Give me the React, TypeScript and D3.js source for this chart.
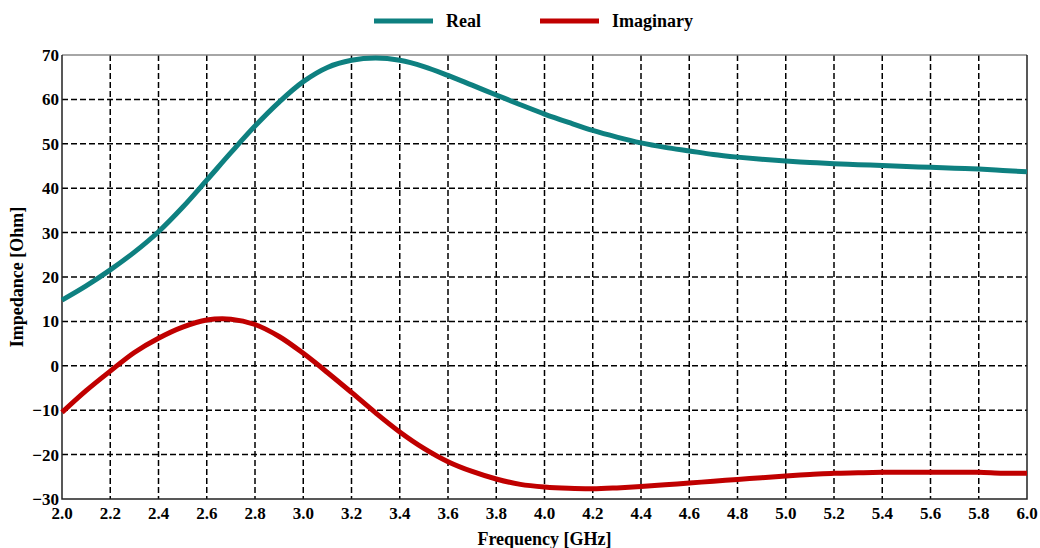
import { useEffect, useRef } from "react";
import * as d3 from "d3";

const freq = [
  2.0, 2.1, 2.2, 2.3, 2.4, 2.5, 2.6, 2.7, 2.8, 2.9, 3.0, 3.1, 3.2, 3.3, 3.4, 3.5, 3.6, 3.7, 3.8, 3.9, 4.0,
  4.1, 4.2, 4.3, 4.4, 4.5, 4.6, 4.7, 4.8, 4.9, 5.0, 5.1, 5.2, 5.3, 5.4, 5.5, 5.6, 5.7, 5.8, 5.9, 6.0,
];
const realZ = [
  14.8, 18, 21.6, 25.6, 30.2, 35.7, 41.8, 48, 54, 59.4, 64, 67.2, 68.8, 69.3, 68.8, 67.4, 65.4, 63.2, 61, 58.8, 56.7,
  54.8, 53, 51.5, 50.2, 49.2, 48.4, 47.6, 47, 46.5, 46.1, 45.8, 45.5, 45.3, 45.1, 44.9, 44.7, 44.5, 44.3, 44.0, 43.7,
];
const imagZ = [
  -10.5, -5.6, -1.2, 3, 6.2, 8.7, 10.3, 10.5, 9.3, 6.6, 2.8, -1.5, -6, -10.6, -14.9, -18.6, -21.6, -23.8, -25.5, -26.7, -27.3,
  -27.6, -27.7, -27.5, -27.2, -26.8, -26.4, -26, -25.6, -25.2, -24.8, -24.5, -24.2, -24.1, -24, -24, -24, -24, -24, -24.2, -24.2,
];
const xTicks = d3.range(2.0, 6.001, 0.2);
const yTicks = d3.range(-30, 70.001, 10);

const W = 1040;
const H = 548;
const M = { left: 62, right: 13, top: 55, bottom: 49 };
const font = "'Liberation Serif', 'Times New Roman', serif";

export default function App() {
  const ref = useRef<SVGSVGElement>(null);

  useEffect(() => {
    if (!ref.current) return;
    const svg = d3.select(ref.current);
    svg.selectAll("*").remove();

    const x = d3.scaleLinear().domain([2, 6]).range([M.left, W - M.right]);
    const y = d3.scaleLinear().domain([-30, 70]).range([H - M.bottom, M.top]);

    // grid
    const grid = svg.append("g").attr("stroke", "#000").attr("stroke-width", 1.5).attr("stroke-dasharray", "6,3");
    grid.selectAll(".vx")
      .data(xTicks.slice(1, -1))
      .enter()
      .append("line")
      .attr("x1", d => x(d)).attr("x2", d => x(d))
      .attr("y1", y(70)).attr("y2", y(-30));
    grid.selectAll(".hy")
      .data(yTicks.slice(1, -1))
      .enter()
      .append("line")
      .attr("x1", x(2)).attr("x2", x(6))
      .attr("y1", d => y(d)).attr("y2", d => y(d));

    // frame
    svg.append("line").attr("x1", x(2)).attr("x2", x(6)).attr("y1", y(70)).attr("y2", y(70))
      .attr("stroke", "#888").attr("stroke-width", 1.5);
    svg.append("path")
      .attr("d", `M${x(2)},${y(70)}V${y(-30)}H${x(6)}V${y(70)}`)
      .attr("fill", "none").attr("stroke", "#222").attr("stroke-width", 1.5);

    // curves
    const line = d3.line<number>()
      .x((_, i) => x(freq[i]))
      .curve(d3.curveCatmullRom);
    svg.append("path")
      .attr("d", line.y(d => y(d))(realZ))
      .attr("fill", "none").attr("stroke", "#0e8080").attr("stroke-width", 5);
    svg.append("path")
      .attr("d", line.y(d => y(d))(imagZ))
      .attr("fill", "none").attr("stroke", "#c00000").attr("stroke-width", 5);

    // tick labels
    svg.append("g").selectAll("text")
      .data(xTicks)
      .enter()
      .append("text")
      .attr("x", d => x(d))
      .attr("y", y(-30) + 20)
      .attr("text-anchor", "middle")
      .style("font-family", font).style("font-size", "17px").style("font-weight", "bold")
      .text(d => d.toFixed(1));
    svg.append("g").selectAll("text")
      .data(yTicks)
      .enter()
      .append("text")
      .attr("x", M.left - 3)
      .attr("y", d => y(d) + 6)
      .attr("text-anchor", "end")
      .style("font-family", font).style("font-size", "17px").style("font-weight", "bold")
      .text(d => d3.format("d")(d));

    // axis titles
    svg.append("text")
      .attr("x", (x(2) + x(6)) / 2).attr("y", 545)
      .attr("text-anchor", "middle")
      .style("font-family", font).style("font-size", "18px").style("font-weight", "bold")
      .text("Frequency [GHz]");
    svg.append("text")
      .attr("transform", `translate(23, ${(y(70) + y(-30)) / 2}) rotate(-90)`)
      .attr("text-anchor", "middle")
      .style("font-family", font).style("font-size", "18px").style("font-weight", "bold")
      .text("Impedance [Ohm]");

    // legend
    const legend = [
      { name: "Real", color: "#0e8080", x0: 374 },
      { name: "Imaginary", color: "#c00000", x0: 540 },
    ];
    const lg = svg.append("g").selectAll("g").data(legend).enter().append("g");
    lg.append("line")
      .attr("x1", d => d.x0).attr("x2", d => d.x0 + 59)
      .attr("y1", 21).attr("y2", 21)
      .attr("stroke", d => d.color).attr("stroke-width", 5);
    lg.append("text")
      .attr("x", d => d.x0 + 72).attr("y", 27)
      .style("font-family", font).style("font-size", "18px").style("font-weight", "bold")
      .text(d => d.name);
  }, []);

  return (
    <div style={{ position: "fixed", left: 0, top: 0, width: W, height: H, overflow: "hidden", background: "#fff" }}>
      <svg ref={ref} width={W} height={H} viewBox={`0 0 ${W} ${H}`} style={{ display: "block" }} />
    </div>
  );
}
